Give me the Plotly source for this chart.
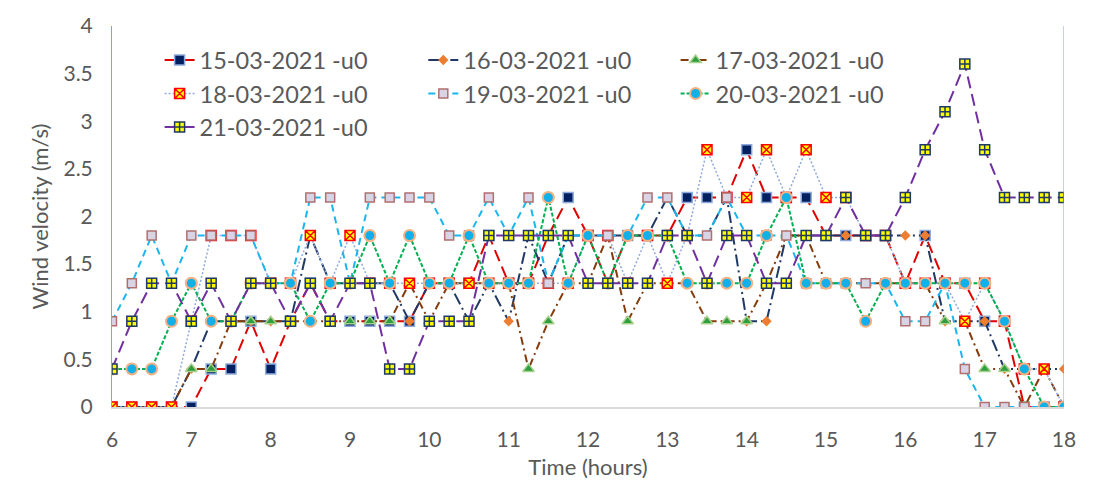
import plotly.graph_objects as go

# Time axis (hours), 15-minute steps
time_h = [6.0, 6.25, 6.5, 6.75, 7.0, 7.25, 7.5, 7.75, 8.0, 8.25,
          8.5, 8.75, 9.0, 9.25, 9.5, 9.75, 10.0, 10.25, 10.5, 10.75,
          11.0, 11.25, 11.5, 11.75, 12.0, 12.25, 12.5, 12.75, 13.0, 13.25,
          13.5, 13.75, 14.0, 14.25, 14.5, 14.75, 15.0, 15.25, 15.5, 15.75,
          16.0, 16.25, 16.5, 16.75, 17.0, 17.25, 17.5, 17.75, 18.0]

u_15 = [0, 0, 0, 0, 0, 0.4, 0.4, 0.9, 0.4, 0.9,
        1.3, 0.9, 0.9, 0.9, 0.9, 0.9, 1.3, 1.3, 1.3, 1.8,
        1.3, 1.3, 1.8, 2.2, 1.8, 1.3, 1.8, 1.8, 1.8, 2.2,
        2.2, 2.2, 2.7, 2.2, 2.2, 2.2, 1.8, 1.8, 1.8, 1.8,
        1.3, 1.8, 1.3, 1.3, 0.9, 0.9, 0, 0, 0]
u_16 = [0, 0, 0, 0, 0.4, 0.9, 0.9, 0.9, 0.9, 0.9,
        1.8, 1.3, 1.3, 1.3, 1.3, 0.9, 1.3, 1.3, 0.9, 1.3,
        0.9, 1.8, 1.3, 1.8, 1.8, 1.8, 1.8, 1.8, 2.2, 1.8,
        1.8, 2.2, 0.9, 0.9, 1.8, 1.8, 1.8, 1.8, 1.8, 1.8,
        1.8, 1.8, 0.9, 0.9, 0.9, 0.4, 0.4, 0.4, 0.4]
u_17 = [0, 0, 0, 0, 0.4, 0.4, 0.9, 0.9, 0.9, 0.9,
        0.9, 0.9, 0.9, 0.9, 0.9, 1.3, 0.9, 1.3, 1.3, 1.3,
        1.3, 0.4, 0.9, 1.3, 1.3, 1.8, 0.9, 1.3, 1.3, 1.3,
        0.9, 0.9, 0.9, 1.3, 1.8, 1.8, 1.3, 1.3, 1.3, 1.3,
        1.3, 1.3, 0.9, 0.9, 0.4, 0.4, 0, 0.4, 0]
u_18 = [0, 0, 0, 0, 0.9, 1.8, 1.8, 1.8, 1.3, 1.3,
        1.8, 1.3, 1.8, 1.3, 1.3, 1.3, 1.3, 1.3, 1.3, 1.3,
        1.3, 1.3, 1.3, 1.3, 1.8, 1.8, 1.3, 1.8, 1.3, 1.8,
        2.7, 2.2, 2.2, 2.7, 2.2, 2.7, 2.2, 2.2, 1.8, 1.8,
        1.3, 1.3, 1.3, 0.9, 1.3, 0.9, 0.4, 0.4, 0]
u_19 = [0.9, 1.3, 1.8, 1.3, 1.8, 1.8, 1.8, 1.8, 1.3, 1.3,
        2.2, 2.2, 1.3, 2.2, 2.2, 2.2, 2.2, 1.8, 1.8, 2.2,
        1.8, 2.2, 1.3, 1.8, 1.8, 1.8, 1.8, 2.2, 2.2, 1.8,
        1.8, 2.2, 1.8, 1.8, 1.8, 1.3, 1.3, 1.3, 1.3, 1.3,
        0.9, 0.9, 1.3, 0.4, 0, 0, 0, 0, 0]
u_20 = [0.4, 0.4, 0.4, 0.9, 1.3, 0.9, 0.9, 1.3, 1.3, 1.3,
        0.9, 1.3, 1.3, 1.8, 1.3, 1.8, 1.3, 1.3, 1.8, 1.3,
        1.3, 1.3, 2.2, 1.3, 1.8, 1.3, 1.8, 1.8, 1.8, 1.3,
        1.3, 1.3, 1.3, 1.8, 2.2, 1.3, 1.3, 1.3, 0.9, 1.3,
        1.3, 1.3, 1.3, 1.3, 1.3, 0.9, 0.4, 0, 0]
u_21 = [0.4, 0.9, 1.3, 1.3, 0.9, 1.3, 0.9, 1.3, 1.3, 0.9,
        1.3, 0.9, 1.3, 1.3, 0.4, 0.4, 0.9, 0.9, 0.9, 1.8,
        1.8, 1.8, 1.8, 1.8, 1.3, 1.3, 1.3, 1.3, 1.8, 1.8,
        1.3, 1.8, 1.8, 1.3, 1.3, 1.8, 1.8, 2.2, 1.8, 1.8,
        2.2, 2.7, 3.1, 3.6, 2.7, 2.2, 2.2, 2.2, 2.2]

series_names = ["15-03-2021 -u0", "16-03-2021 -u0", "17-03-2021 -u0",
                "18-03-2021 -u0", "19-03-2021 -u0", "20-03-2021 -u0",
                "21-03-2021 -u0"]
series_values = [u_15, u_16, u_17, u_18, u_19, u_20, u_21]

x_ticks = [6, 7, 8, 9, 10, 11, 12, 13, 14, 15, 16, 17, 18]
y_ticks = [0, 0.5, 1, 1.5, 2, 2.5, 3, 3.5, 4]
y_tick_text = ["0", "0.5", "1", "1.5", "2", "2.5", "3", "3.5", "4"]

styles = [
    dict(line=dict(color="#E00000", width=2, dash="12px,6px"),
         marker=dict(symbol="square", size=10, color="#002060",
                     line=dict(color="#8FAADC", width=1.5)), legend="legend"),
    dict(line=dict(color="#1F3864", width=2, dash="12px,4px,2px,4px"),
         marker=dict(symbol="diamond", size=8, color="#ED7D31",
                     line=dict(color="#ED7D31", width=0)), legend="legend2"),
    dict(line=dict(color="#843C0C", width=2, dash="8px,4px,2px,4px"),
         marker=dict(symbol="triangle-up", size=10, color="#2E9E3E",
                     line=dict(color="#A9D18E", width=1.5)), legend="legend3"),
    dict(line=dict(color="#8FAADC", width=1.5, dash="2px,2px"),
         marker=dict(symbol="square-x", size=10, color="#FFFF00",
                     line=dict(color="#FF0000", width=1.5)), legend="legend"),
    dict(line=dict(color="#19B6F0", width=2, dash="7px,5px"),
         marker=dict(symbol="square", size=9, color="#D8D4E6",
                     line=dict(color="#B07070", width=1.5)), legend="legend2"),
    dict(line=dict(color="#00B050", width=2, dash="4px,2px"),
         marker=dict(symbol="circle", size=11, color="#12B0E8",
                     line=dict(color="#F4B183", width=2)), legend="legend3"),
    dict(line=dict(color="#7030A0", width=2, dash="12px,6px"),
         marker=dict(symbol="square-cross", size=10, color="#FFFF00",
                     line=dict(color="#1F3864", width=1.5)), legend="legend"),
]

fig = go.Figure()
for name, vals, st in zip(series_names, series_values, styles):
    fig.add_trace(go.Scatter(
        x=time_h, y=vals, name=name, mode="lines+markers",
        line=st["line"], marker=st["marker"], legend=st["legend"],
        legendgroup=name,
    ))

font_family = "Lato, 'Open Sans', sans-serif"
txt = "#595959"
leg_common = dict(orientation="v", xanchor="left", yanchor="top",
                  bgcolor="rgba(0,0,0,0)", font=dict(size=23.5, color=txt, family=font_family),
                  tracegroupgap=0, itemwidth=30)

fig.update_layout(
    width=1098, height=488,
    margin=dict(l=112, r=34, t=25, b=79),
    paper_bgcolor="white", plot_bgcolor="white",
    font=dict(family=font_family, color=txt, size=21),
    showlegend=True,
    legend=dict(x=0.05, y=0.968, **leg_common),
    legend2=dict(x=0.327, y=0.968, **leg_common),
    legend3=dict(x=0.592, y=0.968, **leg_common),
    xaxis=dict(range=[6, 18], tickvals=x_ticks, ticktext=[str(v) for v in x_ticks],
               showgrid=False, zeroline=False, showline=True, linecolor="#D9D9D9",
               linewidth=1.5, ticks="", tickfont=dict(size=21, color=txt),
               ticklabelstandoff=13,
               title=dict(text="Time (hours)", font=dict(size=22, color=txt), standoff=10)),
    yaxis=dict(range=[0, 4], tickvals=y_ticks, ticktext=y_tick_text,
               showgrid=False, zeroline=False, showline=True, linecolor="#7FA6DA",
               linewidth=1, ticks="", tickfont=dict(size=21, color=txt),
               ticklabelstandoff=14,
               title=dict(text="Wind velocity (m/s)", font=dict(size=22, color=txt), standoff=8)),
)
fig.add_shape(type="line", xref="x", yref="paper", x0=18, x1=18, y0=0, y1=1,
              line=dict(color="#7FA6DA", width=1))

fig.write_html("out.html")
